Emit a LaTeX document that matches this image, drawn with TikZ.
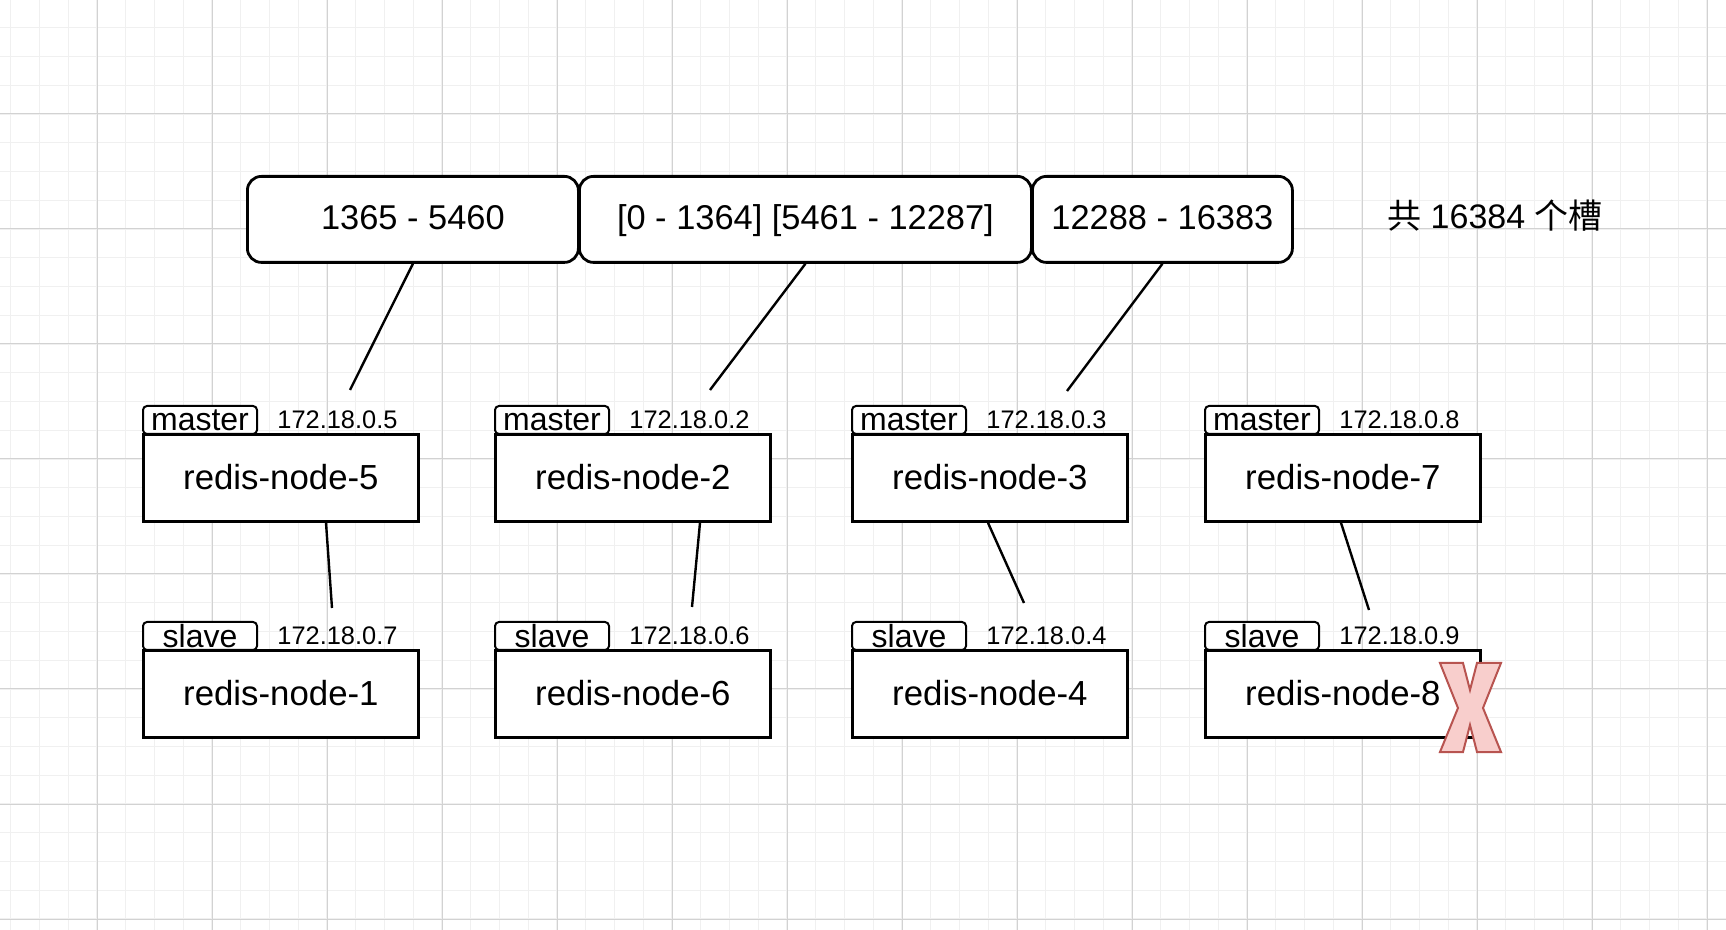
\documentclass[tikz,border=0pt]{standalone}
\usepackage{fontspec}
\setmainfont{Liberation Sans}
\newfontfamily\cjk{Noto Sans CJK SC}
\usetikzlibrary{calc}
\definecolor{gridminor}{HTML}{F0F0F0}
\definecolor{gridmajor}{HTML}{D2D2D2}
\definecolor{xfill}{HTML}{F8CECC}
\definecolor{xdraw}{HTML}{B85450}
\begin{document}
\begin{tikzpicture}[x=0.5pt,y=-0.5pt,
  minorgrid/.style={gridminor, line width=0.7pt},
  majorgrid/.style={gridmajor, line width=0.5pt},
  rangebox/.style={draw, fill=white, line width=1.4pt, rounded corners=7pt,
    minimum height=43pt, inner sep=0pt, anchor=north west,
    text height=12.4pt, text depth=2pt,
    font=\fontsize{17.2}{20}\selectfont},
  serverbox/.style={draw, fill=white, line width=1.4pt, minimum width=137.5pt,
    minimum height=43.5pt, inner sep=0pt, anchor=north west,
    text height=12.4pt, text depth=0.6pt,
    font=\fontsize{17.4}{20}\selectfont},
  tagbox/.style={draw, fill=white, line width=1pt, rounded corners=2pt,
    minimum width=57pt, minimum height=14pt, inner sep=0pt, anchor=north west,
    font=\fontsize{16}{16}\selectfont},
  iplabel/.style={inner sep=0pt, anchor=west, font=\fontsize{12.7}{14}\selectfont},
  conn/.style={draw, line width=1.2pt}]
\useasboundingbox (0,0) rectangle (1726,930);
\fill[white] (0,0) rectangle (1726,930);
% grid
\foreach \i in {0,...,59} {\draw[minorgrid] ({10.75+28.75*\i},0) -- ({10.75+28.75*\i},930);}
\foreach \i in {0,...,31} {\draw[minorgrid] (0,{27.75+28.75*\i}) -- (1726,{27.75+28.75*\i});}
\foreach \i in {0,...,14} {\draw[majorgrid] ({97+115*\i},0) -- ({97+115*\i},930);}
\foreach \i in {0,...,7} {\draw[majorgrid] (0,{114+115*\i}) -- (1726,{114+115*\i});}
% slot ranges
\node[rangebox, minimum width=165.5pt] (r1) at (246,175) {1365 - 5460};
\node[rangebox, minimum width=226pt] (r2) at (578,175) {[0 - 1364] [5461 - 12287]};
\node[rangebox, minimum width=130pt] (r3) at (1031,175) {12288 - 16383};
\node[font=\fontsize{17}{20}\selectfont] (total) at (1495,216) {{\cjk 共} 16384 {\cjk 个槽}};
% servers
\foreach \n/\x/\y/\role/\ip in {5/142/405/master/5, 2/494/405/master/2, 3/851/405/master/3, 7/1204/405/master/8,
                                 1/142/621/slave/7, 6/494/621/slave/6, 4/851/621/slave/4, 8/1204/621/slave/9}
{
  \node[tagbox] (t\n) at (\x,\y) {\role};
  \node[iplabel] (ip\n) at ($(t\n.east)+(19,0)$) {172.18.0.\ip};
  \node[serverbox] (n\n) at (\x,\y+28) {redis-node-\n};
}
% connectors
\coordinate (e1) at (350,390);
\coordinate (e2) at (710,390);
\coordinate (e3) at (1067,391);
\draw[conn] (r1.south) -- (e1);
\draw[conn] (r2.south) -- (e2);
\draw[conn] (r3.south) -- (e3);
\coordinate (f1) at (332,608);
\coordinate (f2) at (692,607);
\coordinate (f3) at (1024,603);
\coordinate (f4) at (1369,610);
\draw[conn] ($(n5.south west)+(184,0)$) -- (f1);
\draw[conn] ($(n2.south west)+(206,0)$) -- (f2);
\draw[conn] ($(n3.south west)+(137,0)$) -- (f3);
\draw[conn] ($(n7.south west)+(137,0)$) -- (f4);
% failure mark
\draw[fill=xfill, draw=xdraw, line width=1pt, line join=miter]
  (1440,663) -- (1463,663) -- (1470,690) -- (1477,663) -- (1501,663) -- (1483,708)
  -- (1501,752) -- (1477,752) -- (1470,725) -- (1463,752) -- (1440,752) -- (1458,708) -- cycle;
\end{tikzpicture}
\end{document}
